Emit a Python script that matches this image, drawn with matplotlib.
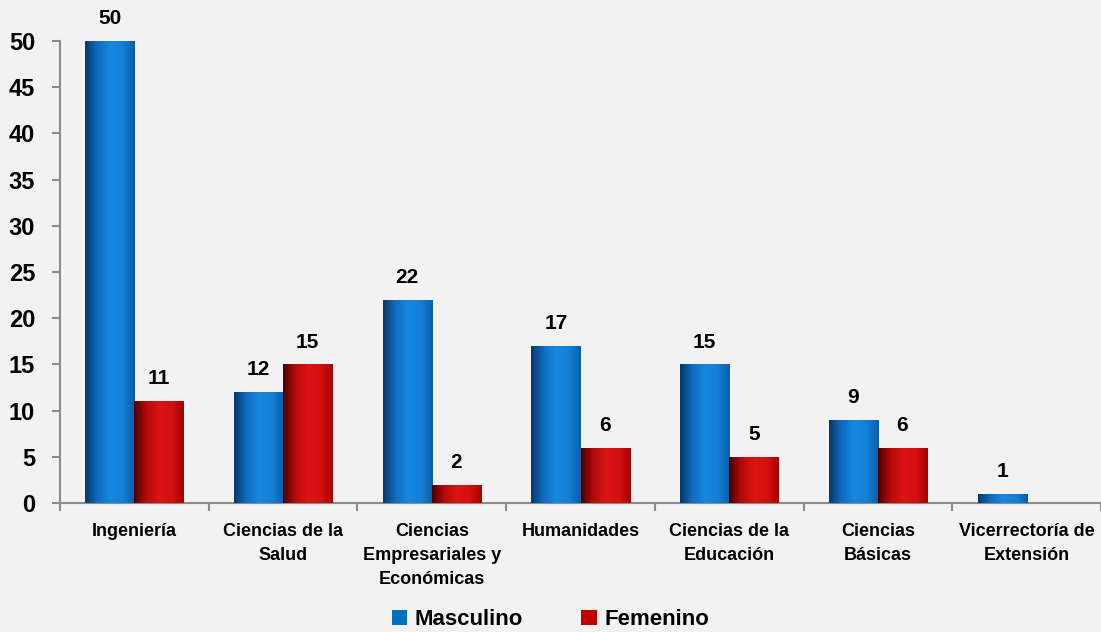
import numpy as np
import matplotlib.pyplot as plt
from matplotlib.colors import LinearSegmentedColormap

categorias = ["Ingeniería", "Ciencias de la\nSalud", "Ciencias\nEmpresariales y\nEconómicas",
              "Humanidades", "Ciencias de la\nEducación", "Ciencias\nBásicas",
              "Vicerrectoría de\nExtensión"]
masculino = [50, 12, 22, 17, 15, 9, 1]
femenino = [11, 15, 2, 6, 5, 6, 0]

plt.rcParams['font.family'] = ['Liberation Sans', 'DejaVu Sans']
plt.rcParams['font.weight'] = 'bold'

fondo = '#f2f2f2'
fig = plt.figure(figsize=(11.01, 6.32), dpi=100, facecolor=fondo)
ax = fig.add_axes([0.0545, 0.204, 0.9455, 0.731], facecolor=fondo)

cmap_azul = LinearSegmentedColormap.from_list('azul', ['#073766', '#0f6cc0', '#1788de', '#1380d6', '#0c5ea8'])
cmap_rojo = LinearSegmentedColormap.from_list('rojo', ['#4a0000', '#b50a0a', '#dc1414', '#d41010', '#a80000'])
grad = np.linspace(0, 1, 256).reshape(1, -1)

x = np.arange(len(categorias))
w = 0.33


def barras_gradiente(pos, valores, cmap, color):
    barras = ax.bar(pos, valores, w, color=color, zorder=2)
    for b in barras:
        if b.get_height() <= 0:
            continue
        x0, y0 = b.get_x(), b.get_y()
        im = ax.imshow(grad, cmap=cmap, aspect='auto', zorder=3,
                       extent=[x0, x0 + b.get_width(), y0, y0 + b.get_height()])
        im.set_clip_path(b)
    return barras


b1 = barras_gradiente(x - w / 2, masculino, cmap_azul, '#0070c0')
b2 = barras_gradiente(x + w / 2, femenino, cmap_rojo, '#c00000')

for xi, v in zip(x - w / 2, masculino):
    ax.text(xi, v + 1.4, str(v), ha='center', va='bottom', fontsize=15, fontweight='bold')
for xi, v in zip(x + w / 2, femenino):
    if v > 0:
        ax.text(xi, v + 1.4, str(v), ha='center', va='bottom', fontsize=15, fontweight='bold')

ax.set_xlim(-0.5, len(categorias) - 0.5)
ax.set_ylim(0, 50)
ax.set_yticks(range(0, 51, 5))
ax.set_yticklabels([str(v) for v in range(0, 51, 5)], fontsize=17, fontweight='bold')

ax.set_xticks(np.arange(len(categorias) + 1) - 0.5)
ax.set_xticklabels([])
ax.set_xticks(x, minor=True)
ax.set_xticklabels(categorias, minor=True, fontsize=13, fontweight='bold', linespacing=1.55)
ax.tick_params(axis='x', which='minor', length=0, pad=14)
ax.tick_params(axis='x', which='major', length=6, color='#8c8c8c', width=1.5)
ax.tick_params(axis='y', length=5.5, color='#8c8c8c', width=1.5, pad=12.5)

for s in ['top', 'right']:
    ax.spines[s].set_visible(False)
for s in ['left', 'bottom']:
    ax.spines[s].set_color('#8c8c8c')
    ax.spines[s].set_linewidth(1.5)

fig.legend([b1, b2], ['Masculino', 'Femenino'], loc='center',
           bbox_to_anchor=(0.5, 0.019), ncol=2, frameon=False,
           handlelength=0.7, handleheight=0.7, columnspacing=2.6, handletextpad=0.35,
           borderpad=0, prop={'weight': 'bold', 'size': 16})

plt.savefig('out.png', dpi=100, facecolor=fondo)
